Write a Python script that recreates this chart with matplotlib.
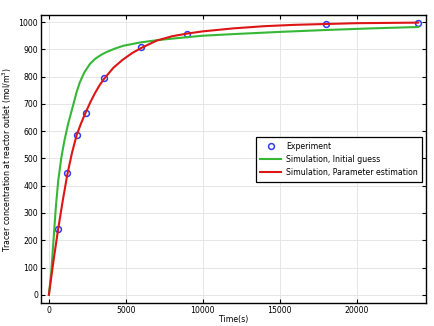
import matplotlib
matplotlib.use('Agg')
import matplotlib.pyplot as plt

# experiment
t_exp = [600, 1200, 1800, 2400, 3600, 6000, 9000, 18000, 24000]
c_exp = [242, 446, 586, 667, 795, 909, 956, 992, 997]

# simulation, initial guess
t_init = [0, 150, 300, 450, 600, 800, 1000, 1250, 1580, 1800, 2010, 2300, 2660,
          3000, 3400, 3740, 4300, 4830, 5900, 7080, 8500, 10000, 12000, 15000,
          18000, 21000, 24000]
c_init = [0, 80, 200, 320, 415, 500, 563, 627, 696, 743, 779, 815, 846,
          865, 880, 890, 903, 913, 925, 934, 942, 950, 956, 964,
          971, 977, 982]

# simulation, parameter estimation
t_est = [0, 300, 600, 900, 1200, 1500, 1800, 2100, 2400, 2700, 3000, 3300, 3600,
         4200, 4800, 5400, 6000, 7000, 8000, 9000, 10000, 12000, 14000, 16000,
         18000, 20000, 22000, 24000]
c_est = [0, 125, 240, 345, 442, 520, 585, 630, 670, 707, 740, 769, 793,
         833, 862, 886, 905, 932, 948, 958, 966, 977, 985, 990,
         993, 996, 997, 998]

plt.rcParams['font.family'] = 'DejaVu Sans'
plt.rcParams['font.size'] = 5.6

fig = plt.figure(figsize=(4.35, 3.26), dpi=100)
ax = fig.add_axes([0.094, 0.0706, 0.885, 0.8834])

ax.plot(t_exp, c_exp, 'o', mfc='none', mec='#2f3cf0', mew=1.1, ms=4.2, label='Experiment')
ax.plot(t_init, c_init, '-', color='#36b836', lw=1.5, label='Simulation, Initial guess')
ax.plot(t_est, c_est, '-', color='#dd1515', lw=1.5, label='Simulation, Parameter estimation')

ax.set_xlim(-520, 24500)
ax.set_ylim(-30, 1026)
ax.set_xticks([0, 5000, 10000, 15000, 20000])
ax.set_yticks(range(0, 1001, 100))
ax.tick_params(direction='in', top=True, right=True, length=3, width=0.8, pad=2)
ax.grid(color='#e6e6e6', lw=0.7)
ax.set_axisbelow(True)
for s in ax.spines.values():
    s.set_linewidth(1.0)

ax.set_xlabel('Time(s)', labelpad=0)
ax.set_ylabel('Tracer concentration at reactor outlet (mol/m$^3$)', labelpad=3)

leg = ax.legend(loc='upper left', bbox_to_anchor=(0.548, 0.59), fancybox=False,
                edgecolor='black', framealpha=1, borderpad=0.6, handlelength=2.7,
                handletextpad=0.6, labelspacing=0.55)
leg.get_frame().set_linewidth(0.9)

plt.savefig('out.png', dpi=100)
